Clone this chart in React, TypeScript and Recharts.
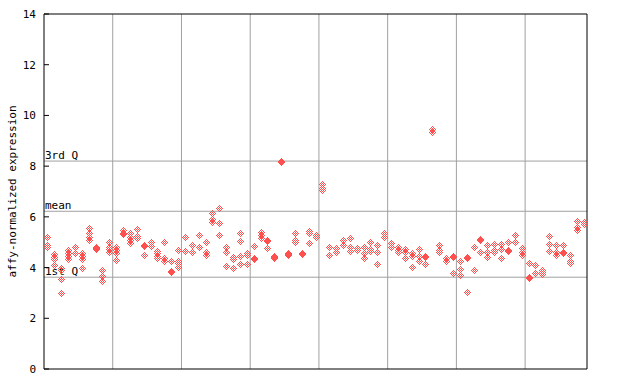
import React from 'react'
import {
  ScatterChart,
  Scatter,
  XAxis,
  YAxis,
  ReferenceLine,
} from 'recharts'

// one entry per sample column, replicate values
const sampleValues: number[][] = [
  [5.2, 4.88, 4.8],
  [4.53, 4.43, 4.34, 4.1],
  [4.0, 3.92, 3.54, 2.98],
  [4.69, 4.56, 4.45, 4.32],
  [4.8, 4.56],
  [4.59, 4.46, 4.33, 4.0],
  [5.55, 5.38, 5.22, 5.09],
  [4.8, 4.77, 4.75],
  [3.92, 3.68, 3.46],
  [5.0, 4.82, 4.72, 4.6],
  [4.82, 4.69, 4.59, 4.3],
  [5.48, 5.36, 5.33],
  [5.35, 5.22, 5.09, 4.96],
  [5.52, 5.26, 5.16],
  [4.88, 4.85, 4.5],
  [5.0, 4.86],
  [4.65, 4.56, 4.47, 4.39],
  [4.99, 4.36, 4.27],
  [4.26, 3.85, 3.82],
  [4.69, 4.27, 4.2, 4.03],
  [5.22, 4.65],
  [4.89, 4.63],
  [5.28, 4.83, 4.8],
  [5.0, 4.6, 4.5],
  [6.14, 5.9, 5.78],
  [6.34, 5.74, 5.28],
  [4.82, 4.6, 4.05],
  [4.42, 4.35, 4.0],
  [5.35, 5.04, 4.47, 4.14],
  [4.59, 4.5, 4.14],
  [4.87, 4.37, 4.34],
  [5.42, 5.28, 5.15],
  [5.07, 5.04, 4.79],
  [4.44, 4.41, 4.36],
  [8.22, 8.17],
  [4.57, 4.55, 4.5],
  [5.35, 5.09, 4.99],
  [4.57, 4.54],
  [5.45, 5.35, 4.98],
  [5.3, 5.22],
  [7.3, 7.15, 7.05],
  [4.82, 4.5],
  [4.78, 4.63],
  [5.07, 4.9],
  [5.16, 4.82, 4.65],
  [4.79, 4.76, 4.69],
  [4.82, 4.56, 4.39],
  [5.0, 4.75, 4.72, 4.65],
  [4.9, 4.63, 4.14],
  [5.35, 5.22, 5.19],
  [4.96, 4.83, 4.8],
  [4.82, 4.69, 4.6],
  [4.72, 4.63, 4.36],
  [4.59, 4.47, 4.03],
  [4.72, 4.47, 4.26],
  [4.44, 4.41, 4.14],
  [9.45, 9.35],
  [4.89, 4.69, 4.6],
  [4.36, 4.27],
  [4.44, 4.41, 3.78],
  [4.26, 3.94, 3.7],
  [4.4, 4.37, 3.02],
  [4.83, 4.8, 3.9],
  [5.13, 5.1, 4.6],
  [4.89, 4.63, 4.41],
  [4.94, 4.69, 4.6],
  [4.94, 4.74, 4.36],
  [4.99, 4.68, 4.65],
  [5.28, 5.0],
  [4.78, 4.6, 4.5],
  [4.2, 3.63, 3.6],
  [4.1, 3.78],
  [3.9, 3.81, 3.73],
  [5.25, 4.94, 4.65],
  [4.89, 4.63, 4.5],
  [4.89, 4.63, 4.56],
  [4.5, 4.27, 4.24, 4.17],
  [5.82, 5.6, 5.5],
  [5.8, 5.72],
]

const yTicks = [0, 2, 4, 6, 8, 10, 12, 14]
const gridX = [10, 20, 30, 40, 50, 60, 70]
const statLines = [
  { name: '3rd Q', value: 8.2 },
  { name: 'mean', value: 6.22 },
  { name: '1st Q', value: 3.62 },
]

const points = sampleValues.flatMap((vals, i) =>
  vals.map((v) => ({ x: i + 0.5, y: v }))
)

const FONT = '"DejaVu Sans Mono", monospace'
const RED = '#ff5050'
const GRID = '#a0a0a0'

const Diamond = (props: any) => {
  const { cx, cy } = props
  const cells: React.ReactNode[] = []
  for (let dx = -3; dx <= 3; dx++) {
    for (let dy = -3; dy <= 3; dy++) {
      const d = Math.abs(dx) + Math.abs(dy)
      if (d <= 3 && d % 2 === 1) {
        cells.push(
          <rect
            key={`${dx}_${dy}`}
            x={Math.round(cx) + dx}
            y={Math.round(cy) + dy}
            width={1}
            height={1}
            fill={RED}
          />
        )
      }
    }
  }
  return <g>{cells}</g>
}

const LeftTick = (props: any) => {
  const { x, y, payload } = props
  return (
    <g>
      <line x1={x} y1={y} x2={x + 5} y2={y} stroke="#000" />
      <text x={x - 8} y={y + 4} textAnchor="end" fontSize={11} fontFamily={FONT} fill="#000">
        {payload.value}
      </text>
    </g>
  )
}

const RightTick = (props: any) => {
  const { x, y } = props
  return <line x1={x - 5} y1={y} x2={x} y2={y} stroke="#000" />
}

const StatLabel = (name: string) => (props: any) => {
  const { viewBox } = props
  return (
    <text x={viewBox.x + 1} y={viewBox.y - 2} fontSize={11} fontFamily={FONT} fill="#000">
      {name}
    </text>
  )
}

const AxisTitle = (props: any) => {
  const { viewBox } = props
  const cx = viewBox.x + 16
  const cy = viewBox.y + viewBox.height / 2
  return (
    <text
      x={cx}
      y={cy}
      transform={`rotate(-90 ${cx} ${cy})`}
      textAnchor="middle"
      fontSize={11}
      fontFamily={FONT}
      fill="#000"
    >
      affy-normalized expression
    </text>
  )
}

const App: React.FC = () => {
  return (
    <div style={{ position: 'absolute', left: 0, top: 0, background: '#fff' }}>
      <ScatterChart
        width={640}
        height={384}
        margin={{ top: 14, right: 0, left: 0, bottom: 0 }}
      >
        <XAxis
          type="number"
          dataKey="x"
          domain={[0, 79]}
          height={15}
          tick={false}
          tickLine={false}
          axisLine={{ stroke: '#000' }}
        />
        <YAxis
          type="number"
          dataKey="y"
          domain={[0, 14]}
          ticks={yTicks}
          width={44}
          tickSize={0}
          tickMargin={0}
          tickLine={false}
          tick={<LeftTick />}
          axisLine={{ stroke: '#000' }}
          label={<AxisTitle />}
          interval={0}
        />
        <YAxis
          yAxisId="right"
          orientation="right"
          type="number"
          domain={[0, 14]}
          ticks={yTicks}
          width={53}
          tickSize={0}
          tickMargin={0}
          tickLine={false}
          tick={<RightTick />}
          axisLine={{ stroke: '#000' }}
          interval={0}
        />
        {gridX.map((gx) => (
          <ReferenceLine key={gx} x={gx} stroke={GRID} strokeWidth={1} />
        ))}
        {statLines.map((s) => (
          <ReferenceLine
            key={s.name}
            y={s.value}
            stroke={GRID}
            strokeWidth={1}
            label={StatLabel(s.name)}
          />
        ))}
        <ReferenceLine y={14} stroke="#000" strokeWidth={1} />
        <Scatter data={points} shape={<Diamond />} isAnimationActive={false} />
      </ScatterChart>
    </div>
  )
}

export default App
